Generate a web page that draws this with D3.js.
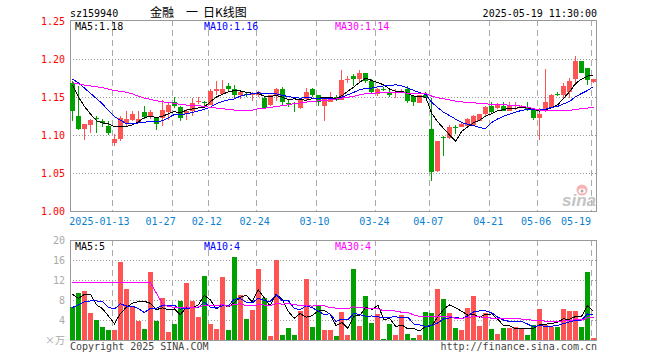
<!DOCTYPE html>
<html>
<head>
<meta charset="utf-8">
<script src="https://cdn.jsdelivr.net/npm/d3@7"></script>
<style>
  body { margin: 0; background: #fff; }
  text { font-family: "DejaVu Sans Mono", monospace; font-size: 10px; }
  .cjk { font-family: "Noto Sans CJK SC", sans-serif; }
</style>
</head>
<body>
<div id="chart"></div>
<script>
// trading days, 2025
var dates = ["01-02","01-03","01-06","01-07","01-08","01-09","01-10","01-13","01-14","01-15","01-16","01-17","01-20","01-21","01-22","01-23","01-24","01-27",
  "02-05","02-06","02-07","02-10","02-11","02-12","02-13","02-14","02-17","02-18","02-19","02-20","02-21","02-24","02-25","02-26","02-27","02-28",
  "03-03","03-04","03-05","03-06","03-07","03-10","03-11","03-12","03-13","03-14","03-17","03-18","03-19","03-20","03-21","03-24","03-25","03-26","03-27","03-28","03-31",
  "04-01","04-02","04-03","04-07","04-08","04-09","04-10","04-11","04-14","04-15","04-16","04-17","04-18","04-21","04-22","04-23","04-24","04-25","04-28","04-29","04-30",
  "05-06","05-07","05-08","05-09","05-12","05-13","05-14","05-15","05-16","05-19"];

var open = [1.168,1.125,1.108,1.113,1.122,1.119,1.112,1.089,1.095,1.116,1.120,1.116,1.130,1.124,1.123,1.123,1.130,1.144,
  1.137,1.127,1.131,1.144,1.144,1.140,1.158,1.154,1.165,1.161,1.152,1.154,1.152,1.153,1.149,1.140,1.151,1.161,
  1.142,1.142,1.135,1.147,1.161,1.152,1.138,1.144,1.150,1.146,1.173,1.178,1.174,1.182,1.171,1.154,1.161,1.157,1.155,1.156,1.160,
  1.151,1.142,1.153,1.108,1.052,1.098,1.096,1.111,1.110,1.112,1.113,1.119,1.127,1.138,1.135,1.138,1.132,1.135,1.137,1.135,1.133,
  1.123,1.131,1.136,1.154,1.153,1.156,1.174,1.197,1.188,1.170];
var high = [1.171,1.164,1.114,1.121,1.125,1.121,1.118,1.101,1.125,1.131,1.131,1.132,1.138,1.133,1.124,1.146,1.144,1.150,
  1.138,1.134,1.149,1.150,1.145,1.160,1.171,1.172,1.168,1.166,1.159,1.156,1.157,1.158,1.150,1.153,1.162,1.163,
  1.147,1.144,1.148,1.162,1.162,1.152,1.147,1.157,1.152,1.185,1.178,1.180,1.185,1.182,1.174,1.162,1.163,1.161,1.161,1.161,1.165,
  1.153,1.153,1.157,1.149,1.092,1.099,1.113,1.113,1.116,1.123,1.126,1.128,1.138,1.144,1.142,1.144,1.144,1.144,1.140,1.144,1.133,
  1.136,1.187,1.154,1.156,1.169,1.175,1.204,1.198,1.188,1.174];
var low = [1.118,1.106,1.094,1.103,1.103,1.110,1.100,1.086,1.092,1.112,1.118,1.116,1.121,1.121,1.107,1.112,1.120,1.135,
  1.119,1.120,1.125,1.141,1.138,1.139,1.153,1.152,1.156,1.149,1.148,1.150,1.145,1.150,1.135,1.138,1.145,1.140,
  1.137,1.130,1.134,1.146,1.150,1.138,1.119,1.143,1.145,1.146,1.168,1.164,1.168,1.169,1.154,1.151,1.158,1.150,1.149,1.155,1.142,
  1.138,1.142,1.149,1.040,1.051,1.072,1.095,1.101,1.110,1.111,1.113,1.118,1.125,1.129,1.134,1.131,1.131,1.133,1.135,1.131,1.120,
  1.094,1.130,1.135,1.151,1.149,1.149,1.166,1.181,1.166,1.169];
var close = [1.131,1.108,1.114,1.120,1.121,1.116,1.102,1.095,1.122,1.121,1.127,1.121,1.124,1.130,1.114,1.133,1.139,1.138,
  1.122,1.131,1.142,1.145,1.143,1.158,1.161,1.161,1.160,1.152,1.156,1.152,1.155,1.157,1.136,1.152,1.161,1.143,
  1.141,1.141,1.147,1.157,1.152,1.144,1.147,1.149,1.146,1.173,1.174,1.174,1.182,1.171,1.157,1.160,1.160,1.153,1.157,1.158,1.145,
  1.143,1.152,1.149,1.051,1.092,1.097,1.110,1.110,1.115,1.121,1.125,1.127,1.137,1.130,1.140,1.132,1.138,1.136,1.138,1.134,1.122,
  1.127,1.144,1.152,1.153,1.165,1.171,1.197,1.182,1.172,1.174];
// volume, 万
var volume = [6.6,9.4,9.8,5.4,4.0,2.7,2.1,2.1,15.6,10.3,6.6,3.9,2.3,13.6,3.9,8.5,1.7,3.3,
  7.8,11.5,7.9,4.6,12.9,3.3,2.3,12.7,2.0,16.7,9.1,4.3,6.1,14.2,8.5,0.9,16.0,1.1,
  2.5,1.1,5.8,12.3,2.6,7.0,2.0,2.0,0.9,5.6,1.1,14.2,2.9,8.9,3.5,5.2,0.3,3.3,1.1,5.1,1.3,
  0.5,1.1,5.7,5.5,10.3,8.3,5.5,2.5,2.1,6.5,8.9,2.9,5.5,2.2,1.3,2.5,2.5,2.7,2.3,1.1,3.1,
  6.3,3.1,2.7,2.7,6.3,5.9,5.9,2.7,13.6,0.5];

// sessions before 01-02 (only feed the moving averages at the left edge)
var histClose = [1.150,1.160,1.155,1.150,1.160,1.155,1.150,1.155,1.160,1.190,1.210,1.200,1.180,1.170,1.175,
  1.165,1.175,1.160,1.155,1.150,1.160,1.180,1.190,1.190,1.185,1.190,1.175,1.170,1.165];
var histVolume = [9.0,10.0,5.5,4.2,3.0,2.5,2.5,15.0,10.0,6.5,4.0,2.5,13.0,67.0,71.5,19.7,8.0,9.0,8.5,8.5,
  4.0,3.5,4.0,4.0,3.9,13.5,5.5,5.5,14.5];

var priceTicks = [1.25,1.20,1.15,1.10,1.05,1.00];
var volTicks = [20,16,12,8,4];
var dateTicks = ["01-13","01-27","02-12","02-24","03-10","03-24","04-07","04-21","05-06","05-19"];

var RED = "#ff5454", GREEN = "#00a000";

function movingAvg(vals, hist, n){
  var all = hist.concat(vals);
  return vals.map(function(v, i){
    var end = hist.length + i + 1;
    return d3.mean(all.slice(end - n, end));
  });
}

var data = dates.map(function(d, i){
  return {date: d, o: open[i], h: high[i], l: low[i], c: close[i], v: volume[i]};
});

var svg = d3.select("#chart").append("svg")
  .attr("width", 660).attr("height", 360)
  .style("shape-rendering", "crispEdges");

var x = d3.scaleBand().domain(dates).range([70, 597]);
var y = d3.scaleLinear().domain([1.00, 1.25]).range([211, 21]);
var yv = d3.scaleLinear().domain([0, 20]).range([340, 240]);

function px(v){ return Math.round(v) + 0.5; }
function col(d){ return d.c >= d.o ? RED : GREEN; }

//header
svg.append("text").attr("x", 70).attr("y", 17).text("sz159940");
svg.append("text").attr("class", "cjk").attr("x", 150).attr("y", 17).style("font-size", "12px").text("金融");
svg.append("text").attr("class", "cjk").attr("x", 186).attr("y", 17).style("font-size", "12px").text("一");
svg.append("text").attr("class", "cjk").attr("x", 203).attr("y", 17).style("font-size", "12px").text("日K线图");
svg.append("text").attr("x", 597).attr("y", 17).attr("text-anchor", "end").text("2025-" + dates[dates.length-1] + " 11:30:00");

//panels
function panel(top, bottom, ticks, scale){
  var g = svg.append("g");
  g.selectAll(".hgrid").data(ticks.slice(1)).enter().append("line")
    .attr("x1", 70).attr("x2", 597)
    .attr("y1", function(d){ return px(scale(d)); })
    .attr("y2", function(d){ return px(scale(d)); })
    .style("stroke", "#999").style("stroke-dasharray", "1,2");
  g.selectAll(".vgrid").data(dateTicks).enter().append("line")
    .attr("x1", function(d){ return px(x(d)); })
    .attr("x2", function(d){ return px(x(d)); })
    .attr("y1", top).attr("y2", bottom)
    .style("stroke", "#aaa").style("stroke-dasharray", "6,4");
  g.append("rect").attr("x", 70.5).attr("y", top + 0.5)
    .attr("width", 526).attr("height", bottom - top)
    .style("fill", "none").style("stroke", "#999");
  return g;
}
panel(20, 211, priceTicks, y);
panel(240, 340, volTicks, yv);

//price labels
svg.selectAll(".plab").data(priceTicks).enter().append("text")
  .attr("x", 65).attr("y", function(d){ return y(d) + 4; })
  .attr("text-anchor", "end").style("fill", "#f00")
  .text(function(d){ return d.toFixed(2); });

svg.selectAll(".vlab").data(volTicks).enter().append("text")
  .attr("x", 65).attr("y", function(d){ return yv(d) + 4; })
  .attr("text-anchor", "end").style("fill", "#aaa")
  .text(function(d){ return d; });
svg.append("text").attr("class", "cjk").attr("x", 65).attr("y", 344)
  .attr("text-anchor", "end").style("fill", "#aaa").style("font-size", "10px").text("×万");

//date labels, pushed left when they crowd the next one
var dl = svg.selectAll(".dlab").data(dateTicks).enter().append("text")
  .attr("y", 225).style("fill", "#0a7fd0")
  .text(function(d, i){ return i === 0 ? "2025-" + d : d; });
var pos = [];
dl.each(function(d){ pos.push({w: this.getComputedTextLength(), c: x(d) - 1}); });
for (var k = pos.length - 1; k >= 0; k--) {
  var p = pos[k];
  if (k === pos.length - 1) { if (p.c + p.w/2 > 591) p.c = 591 - p.w/2; }
  else {
    var nextLeft = pos[k+1].c - pos[k+1].w/2;
    if (nextLeft - (p.c + p.w/2) < 7) p.c = nextLeft - 16 - p.w/2;
  }
}
dl.attr("x", function(d, i){ return pos[i].c - pos[i].w/2; });

//watermark
var wm = svg.append("g").style("shape-rendering", "auto");
wm.append("circle").attr("cx", 582).attr("cy", 190).attr("r", 5.5).style("fill", "#f6b3b3");
wm.append("ellipse").attr("cx", 582).attr("cy", 191).attr("rx", 3.5).attr("ry", 2.5).style("fill", "#fff");
wm.append("circle").attr("cx", 582).attr("cy", 191).attr("r", 1.5).style("fill", "#aaa");
wm.append("text").attr("x", 596).attr("y", 206).attr("text-anchor", "end")
  .style("font-family", "Liberation Sans, sans-serif").style("font-size", "17px")
  .style("font-weight", "bold").style("font-style", "italic").style("fill", "#c4c4c4").text("sina");

//candles
var cg = svg.append("g");
cg.selectAll(".wick").data(data).enter().append("rect")
  .attr("x", function(d){ return Math.round(x(d.date)) + 2; })
  .attr("width", 1)
  .attr("y", function(d){ return Math.round(y(d.h)); })
  .attr("height", function(d){ return Math.max(1, Math.round(y(d.l)) - Math.round(y(d.h))); })
  .style("fill", col);
cg.selectAll(".body").data(data).enter().append("rect")
  .attr("x", function(d){ return Math.round(x(d.date)); })
  .attr("width", 5)
  .attr("y", function(d){ return Math.round(y(Math.max(d.o, d.c))); })
  .attr("height", function(d){ return Math.max(1, Math.round(y(Math.min(d.o, d.c))) - Math.round(y(Math.max(d.o, d.c)))); })
  .style("fill", col);

//volume bars
svg.append("g").selectAll("rect").data(data).enter().append("rect")
  .attr("x", function(d){ return Math.round(x(d.date)); })
  .attr("width", 5)
  .attr("y", function(d){ return Math.round(yv(d.v)); })
  .attr("height", function(d){ return 340 - Math.round(yv(d.v)); })
  .style("fill", col);

//moving averages
var maDefs = [{n: 5, color: "#000"}, {n: 10, color: "#00f"}, {n: 30, color: "#f0f"}];
var labX = [75, 204, 335];
maDefs.forEach(function(m, j){
  var pm = movingAvg(close, histClose, m.n);
  var vm = movingAvg(volume, histVolume, m.n);
  var lp = d3.line().x(function(d, i){ return x(dates[i]) + 2.5; }).y(function(d){ return y(d); });
  var lv = d3.line().x(function(d, i){ return x(dates[i]) + 2.5; }).y(function(d){ return yv(d); });
  svg.append("path").attr("d", lp(pm)).style("fill", "none").style("stroke", m.color);
  svg.append("path").attr("d", lv(vm)).style("fill", "none").style("stroke", m.color);
  svg.append("text").attr("x", labX[j]).attr("y", 30).style("fill", m.color)
    .text("MA" + m.n + ":" + pm[pm.length-1].toFixed(2));
  svg.append("text").attr("x", labX[j]).attr("y", 250).style("fill", m.color)
    .text("MA" + m.n + ":" + Math.floor(vm[vm.length-1]));
});

//footer
svg.append("text").attr("x", 70).attr("y", 350).style("fill", "#444").text("Copyright 2025 SINA.COM");
svg.append("text").attr("x", 597).attr("y", 350).attr("text-anchor", "end").style("fill", "#444").text("http://finance.sina.com.cn");
</script>
</body>
</html>
